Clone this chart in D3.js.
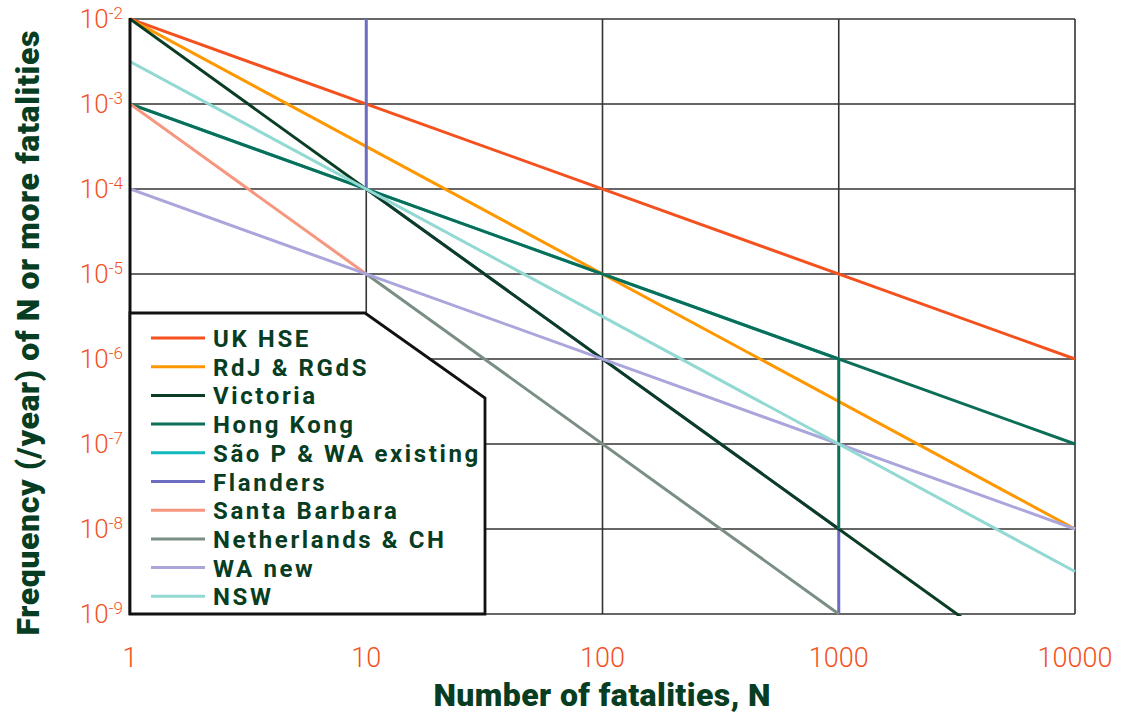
<!DOCTYPE html>
<html>
<head>
<meta charset="utf-8">
<script src="https://cdn.jsdelivr.net/npm/d3@7"></script>
<style>
  html, body { margin: 0; padding: 0; background: #fff; }
  svg { display: block; }
</style>
</head>
<body>
<svg id="chart" width="1126" height="713"></svg>
<script>
// Societal risk criteria: F-N lines, frequency of N or more fatalities per year
const xTickValues = [1, 10, 100, 1000, 10000];
const xTickLabels = ["1", "10", "100", "1000", "10000"];
const yExponents = [-2, -3, -4, -5, -6, -7, -8, -9];

// Each series: list of polylines, each polyline a list of [N, F] points
const ukHse        = [[[1, 1e-2], [10000, 1e-6]]];
const rdjRgds      = [[[1, 1e-2], [10000, 1e-8]]];
const victoria     = [[[1, 1e-2], [10000, 1e-10]]];
const hongKong     = [[[1, 1e-3], [10000, 1e-7]], [[1000, 1e-6], [1000, 1e-8]]];
const saoPauloWa   = [[[1, 1e-3], [1000, 1e-6]]];
const flanders     = [[[10, 1e-2], [10, 1e-4], [1000, 1e-8], [1000, 1e-9]]];
const santaBarbara = [[[1, 1e-3], [10, 1e-5]]];
const netherlands  = [[[10, 1e-5], [1000, 1e-9]]];
const waNew        = [[[1, 1e-4], [10000, 1e-8]]];
const nsw          = [[[1, 3.16e-3], [10000, 3.16e-9]]];

const legendNames = ["UK HSE", "RdJ & RGdS", "Victoria", "Hong Kong", "São P & WA existing",
                     "Flanders", "Santa Barbara", "Netherlands & CH", "WA new", "NSW"];
const legendColors = ["#f4511e", "#ff9800", "#0a3d24", "#0b6e57", "#12b8be",
                      "#6c6cc0", "#f7967e", "#7a8e83", "#aaa6dc", "#92d8d3"];

// drawing order (later on top)
const drawOrder = [
  [saoPauloWa, 4], [ukHse, 0], [rdjRgds, 1], [flanders, 5], [victoria, 2],
  [hongKong, 3], [netherlands, 7], [santaBarbara, 6], [waNew, 8], [nsw, 9]
];

const svg = d3.select("#chart");
const plotLeft = 130, plotRight = 1075, plotTop = 19, plotBottom = 614;

const x = d3.scaleLog().domain([1, 10000]).range([plotLeft, plotRight]);
const y = d3.scaleLog().domain([1e-9, 1e-2]).range([plotBottom, plotTop]);

const tickColor = "#f4511e";
const titleColor = "#073d22";

svg.append("defs").append("clipPath").attr("id", "plotClip")
  .append("rect").attr("x", plotLeft).attr("y", plotTop - 2)
  .attr("width", plotRight - plotLeft + 3).attr("height", plotBottom - plotTop + 4);

// grid
const grid = svg.append("g");
grid.selectAll("line.v").data(xTickValues.slice(1)).join("line")
  .attr("x1", d => x(d)).attr("x2", d => x(d))
  .attr("y1", plotTop).attr("y2", plotBottom)
  .attr("stroke", "#333").attr("stroke-width", 1.6);
grid.selectAll("line.h").data(yExponents).join("line")
  .attr("x1", plotLeft).attr("x2", plotRight)
  .attr("y1", d => y(Math.pow(10, d))).attr("y2", d => y(Math.pow(10, d)))
  .attr("stroke", "#333").attr("stroke-width", 1.6);

// series
const line = d3.line().x(d => x(d[0])).y(d => y(d[1]));
const lines = svg.append("g").attr("clip-path", "url(#plotClip)");
drawOrder.forEach(([series, ci]) => {
  series.forEach(seg => {
    lines.append("path").attr("d", line(seg))
      .attr("fill", "none").attr("stroke", legendColors[ci])
      .attr("stroke-width", 3).attr("stroke-linejoin", "round");
  });
});

// left axis line
svg.append("line").attr("x1", plotLeft).attr("x2", plotLeft)
  .attr("y1", plotTop - 1).attr("y2", plotBottom + 1)
  .attr("stroke", "#111").attr("stroke-width", 3);

// legend panel
const lg = svg.append("g");
lg.append("path")
  .attr("d", `M${plotLeft},313 L365,313 L485,398 L485,${plotBottom} L${plotLeft},${plotBottom} Z`)
  .attr("fill", "#fff").attr("stroke", "#111").attr("stroke-width", 2.8)
  .attr("stroke-linejoin", "miter");
legendNames.forEach((name, i) => {
  const ly = 338 + i * 28.7;
  lg.append("line").attr("x1", 151).attr("x2", 205).attr("y1", ly).attr("y2", ly)
    .attr("stroke", legendColors[i]).attr("stroke-width", 3);
  lg.append("text").attr("x", 213).attr("y", ly + 1)
    .attr("dominant-baseline", "central")
    .attr("font-family", "Roboto, sans-serif").attr("font-weight", 700)
    .attr("font-size", 24).attr("letter-spacing", 2.6)
    .attr("fill", titleColor).text(name);
});

// y tick labels: 10^exponent
yExponents.forEach(e => {
  const t = svg.append("text")
    .attr("x", 123).attr("y", y(Math.pow(10, e)) + 9)
    .attr("text-anchor", "end")
    .attr("font-family", "Roboto, sans-serif").attr("font-weight", 300)
    .attr("font-size", 26).attr("fill", tickColor);
  t.append("tspan").text("10");
  t.append("tspan").attr("dy", -9).attr("font-size", 17).text(String(e));
});

// x tick labels
svg.selectAll("text.xt").data(xTickValues).join("text")
  .attr("x", d => x(d)).attr("y", 667)
  .attr("text-anchor", "middle")
  .attr("font-family", "Roboto, sans-serif").attr("font-weight", 300)
  .attr("font-size", 27).attr("fill", tickColor)
  .text((d, i) => xTickLabels[i]);

// axis titles
svg.append("text").attr("x", 602).attr("y", 706)
  .attr("text-anchor", "middle")
  .attr("font-family", "Roboto, sans-serif").attr("font-weight", 900)
  .attr("font-size", 32).attr("textLength", 337)
  .attr("fill", titleColor).text("Number of fatalities, N");

svg.append("text")
  .attr("transform", "translate(39,333) rotate(-90)")
  .attr("text-anchor", "middle")
  .attr("font-family", "Roboto, sans-serif").attr("font-weight", 900)
  .attr("font-size", 32).attr("textLength", 605)
  .attr("fill", titleColor).text("Frequency (/year) of N or more fatalities");
</script>
</body>
</html>
